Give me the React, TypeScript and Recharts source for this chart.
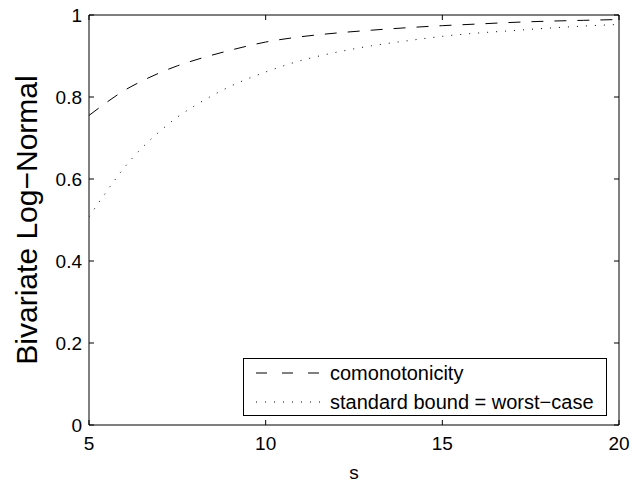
import React from 'react';
import { LineChart, Line, XAxis, YAxis, Label } from 'recharts';

const sValues = [5, 5.5, 6, 6.5, 7, 7.5, 8, 9, 10, 11, 12, 13, 14, 15, 16, 17, 18, 19, 20];
const comonotonicity = [0.755, 0.787, 0.816, 0.839, 0.859, 0.876, 0.890, 0.914, 0.934, 0.947, 0.956, 0.963, 0.969, 0.974, 0.978, 0.982, 0.985, 0.987, 0.989];
const standardBound = [0.508, 0.570, 0.628, 0.676, 0.716, 0.751, 0.779, 0.826, 0.861, 0.889, 0.909, 0.925, 0.937, 0.948, 0.956, 0.962, 0.968, 0.973, 0.977];

const xTicks = [5, 10, 15, 20];
const yTicks = [0, 0.2, 0.4, 0.6, 0.8, 1];
const seriesNames = ['comonotonicity', 'standard bound = worst\u2212case'];
const xLabel = 's';
const yLabel = 'Bivariate Log\u2212Normal';

const data = sValues.map((s, i) => ({ s, como: comonotonicity[i], std: standardBound[i] }));

const FONT = '"Liberation Sans", Arial, Helvetica, sans-serif';
const TICK_LEN = 5;
const DASH = '12 11';
const DOT = '1 8';

const fmtY = (v: number) => (v === 0 || v === 1 ? String(v) : v.toFixed(1));

const BottomTick = (props: any) => {
  const { x, y, payload } = props;
  return (
    <g>
      <line x1={x} y1={y} x2={x} y2={y - TICK_LEN} stroke="#000" strokeWidth={1} />
      <text x={x} y={y + 18} dy="0.355em" textAnchor="middle" fontSize={19} fontFamily={FONT} fill="#000">
        {payload.value}
      </text>
    </g>
  );
};

const TopTick = (props: any) => {
  const { x, y } = props;
  return <line x1={x} y1={y} x2={x} y2={y + TICK_LEN} stroke="#000" strokeWidth={1} />;
};

const LeftTick = (props: any) => {
  const { x, y, payload } = props;
  return (
    <g>
      <line x1={x} y1={y} x2={x + TICK_LEN} y2={y} stroke="#000" strokeWidth={1} />
      <text x={x - 7} y={y} dy="0.355em" textAnchor="end" fontSize={19} fontFamily={FONT} fill="#000">
        {fmtY(payload.value)}
      </text>
    </g>
  );
};

const RightTick = (props: any) => {
  const { x, y } = props;
  return <line x1={x} y1={y} x2={x - TICK_LEN} y2={y} stroke="#000" strokeWidth={1} />;
};

const LegendBox = () => (
  <div
    style={{
      position: 'absolute',
      left: 243,
      top: 358,
      border: '1px solid #000',
      background: '#fff',
      width: 362,
      height: 56,
      boxSizing: 'content-box',
      fontFamily: FONT,
      fontSize: 20,
      color: '#000',
    }}
  >
    {seriesNames.map((name, i) => (
      <div
        key={name}
        style={{
          position: 'absolute',
          left: 0,
          top: i === 0 ? 2 : 31,
          height: 24,
          display: 'flex',
          alignItems: 'center',
          whiteSpace: 'nowrap',
        }}
      >
        <svg width={86} height={24} style={{ display: 'block' }}>
          <line
            x1={12}
            y1={12}
            x2={76}
            y2={12}
            stroke="#000"
            strokeWidth={1}
            strokeDasharray={i === 0 ? '11 15' : DOT}
          />
        </svg>
        <span style={{ lineHeight: '24px' }}>{name}</span>
      </div>
    ))}
  </div>
);

const YLabelContent = (props: any) => {
  const { viewBox } = props;
  const cy = viewBox.y + viewBox.height / 2;
  const cx = 26;
  return (
    <text
      x={cx}
      y={cy}
      transform={`rotate(-90, ${cx}, ${cy})`}
      textAnchor="middle"
      dy="0.355em"
      fontSize={30}
      fontFamily={FONT}
      fill="#000"
    >
      {yLabel}
    </text>
  );
};

const XLabelContent = (props: any) => {
  const { viewBox } = props;
  const cx = viewBox.x + viewBox.width / 2;
  return (
    <text x={cx} y={472} dy="0.355em" textAnchor="middle" fontSize={19} fontFamily={FONT} fill="#000">
      {xLabel}
    </text>
  );
};

export default function App() {
  return (
    <div style={{ position: 'absolute', left: 0, top: 0, width: 635, height: 486, background: '#fff', overflow: 'visible' }}>
      <LineChart
        width={635}
        height={486}
        data={data}
        margin={{ top: 14, right: 15, left: 0, bottom: 0 }}
        style={{ fontFamily: FONT, overflow: 'visible' }}
      >
        <XAxis
          xAxisId="b"
          dataKey="s"
          type="number"
          domain={[5, 20]}
          ticks={xTicks}
          height={61}
          tickSize={0}
          tickMargin={0}
          tickLine={false}
          tick={BottomTick}
          axisLine={{ stroke: '#000', strokeWidth: 1 }}
          interval={0}
          allowDataOverflow
        >
          <Label content={XLabelContent} />
        </XAxis>
        <XAxis
          xAxisId="t"
          orientation="top"
          dataKey="s"
          type="number"
          domain={[5, 20]}
          ticks={xTicks}
          height={1}
          tickSize={0}
          tickMargin={0}
          tickLine={false}
          tick={TopTick}
          axisLine={{ stroke: '#000', strokeWidth: 1 }}
          interval={0}
          allowDataOverflow
        />
        <YAxis
          yAxisId="l"
          type="number"
          domain={[0, 1]}
          ticks={yTicks}
          width={89}
          tickSize={0}
          tickMargin={0}
          tickLine={false}
          tick={LeftTick}
          axisLine={{ stroke: '#000', strokeWidth: 1 }}
          interval={0}
          allowDataOverflow
        >
          <Label content={YLabelContent} />
        </YAxis>
        <YAxis
          yAxisId="r"
          orientation="right"
          type="number"
          domain={[0, 1]}
          ticks={yTicks}
          width={1}
          tickSize={0}
          tickMargin={0}
          tickLine={false}
          tick={RightTick}
          axisLine={{ stroke: '#000', strokeWidth: 1 }}
          interval={0}
          allowDataOverflow
        />
        <Line
          xAxisId="b"
          yAxisId="l"
          type="monotone"
          dataKey="como"
          stroke="#000"
          strokeWidth={1}
          strokeDasharray={DASH}
          dot={false}
          activeDot={false}
          isAnimationActive={false}
        />
        <Line
          xAxisId="t"
          yAxisId="r"
          type="monotone"
          dataKey="std"
          stroke="#000"
          strokeWidth={1}
          strokeDasharray={DOT}
          dot={false}
          activeDot={false}
          isAnimationActive={false}
        />
      </LineChart>
      <LegendBox />
    </div>
  );
}
